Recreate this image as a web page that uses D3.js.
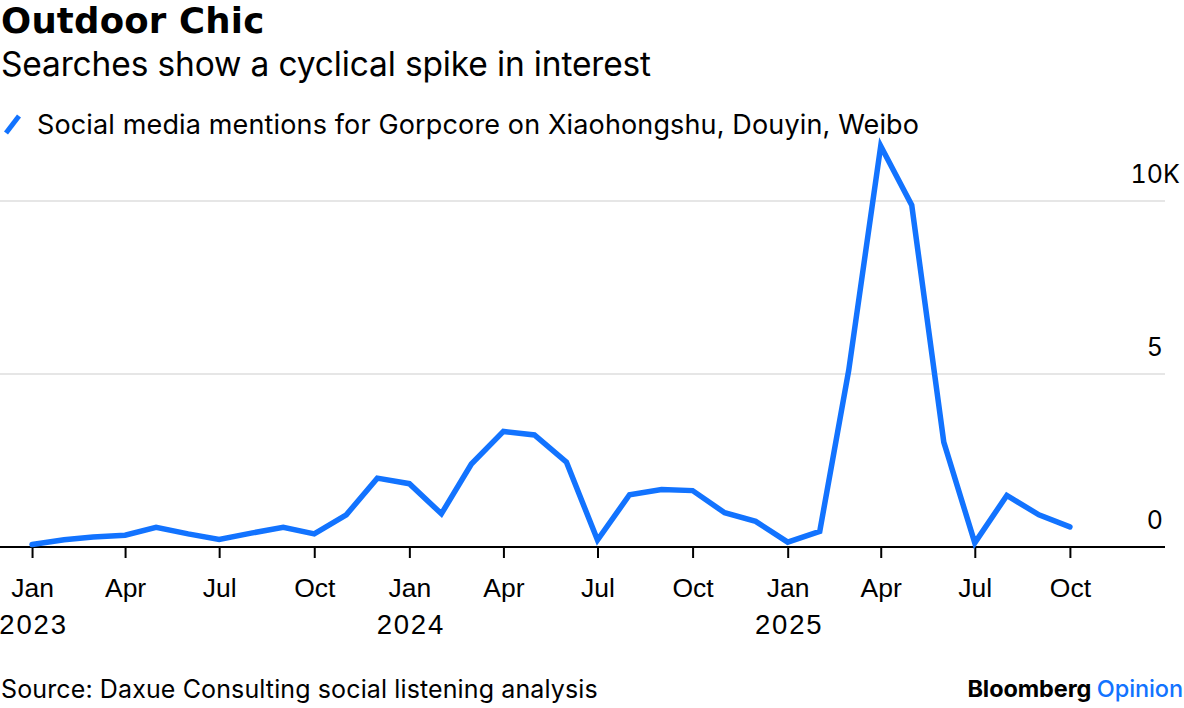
<!DOCTYPE html>
<html><head><meta charset="utf-8">
<script src="https://cdn.jsdelivr.net/npm/d3@7"></script>
<style>
body{margin:0;background:#fff;}
svg{display:block;font-family:Inter,"Liberation Sans",Arial,sans-serif;}
.num{font-feature-settings:"tnum";}
</style></head>
<body><svg id="c" width="1184" height="708"></svg>
<script>
const months = ["2023-01","2023-02","2023-03","2023-04","2023-05","2023-06","2023-07","2023-08","2023-09","2023-10","2023-11","2023-12",
"2024-01","2024-02","2024-03","2024-04","2024-05","2024-06","2024-07","2024-08","2024-09","2024-10","2024-11","2024-12",
"2025-01","2025-02","2025-03","2025-04","2025-05","2025-06","2025-07","2025-08","2025-09","2025-10"];
const mentionsK = [0.07,0.21,0.29,0.34,0.57,0.38,0.22,0.40,0.57,0.38,0.93,1.99,
1.83,0.96,2.40,3.34,3.24,2.45,0.2,1.51,1.66,1.63,0.99,0.74,
0.14,0.45,5.1,11.59,9.88,3.03,0.12,1.49,0.93,0.58];
const yTicks = [0,5,10];
const yTickLabels = ["0","5","10"];
const yUnit = "K";
const xTickMonths = ["2023-01","2023-04","2023-07","2023-10","2024-01","2024-04","2024-07","2024-10","2025-01","2025-04","2025-07","2025-10"];
const title = "Outdoor Chic";
const subtitle = "Searches show a cyclical spike in interest";
const legendLabel = "Social media mentions for Gorpcore on Xiaohongshu, Douyin, Weibo";
const source = "Source: Daxue Consulting social listening analysis";

const parse = d3.timeParse("%Y-%m");
const data = months.map((m,i)=>({date:parse(m), v:mentionsK[i]}));
const blue = "#1273ff";
const svg = d3.select("#c");

const x = d3.scaleTime().domain([new Date(2022,11,1), new Date(2026,0,1)]).range([0,1165]);
const y = d3.scaleLinear().domain([0,10]).range([547,201]);

svg.append("text").attr("x",1).attr("y",33).attr("font-family","'DejaVu Sans',Inter,sans-serif").attr("font-size",35.5).attr("font-weight","bold").attr("letter-spacing",0.2).attr("fill","#000").text(title);
svg.append("text").attr("x",1).attr("y",76).attr("font-size",33.5).attr("letter-spacing",-0.15).attr("fill","#000").text(subtitle);
svg.append("line").attr("x1",6).attr("y1",133).attr("x2",19).attr("y2",116).attr("stroke",blue).attr("stroke-width",5);
svg.append("text").attr("x",37).attr("y",134).attr("font-size",27).attr("letter-spacing",0.14).attr("fill","#000").text(legendLabel);

// gridlines
svg.append("g").selectAll("line").data(yTicks.filter(d=>d>0)).join("line")
  .attr("x1",0).attr("x2",1165).attr("y1",d=>y(d)).attr("y2",d=>y(d))
  .attr("stroke","#e6e6e6").attr("stroke-width",2);
const yl = svg.append("g").selectAll("g").data(yTicks).join("g");
yl.append("text").attr("class","num")
  .attr("x",1163).attr("y",d=>y(d)-18).attr("text-anchor","end").attr("font-size",25).attr("fill","#000")
  .text((d,i)=>yTickLabels[i]);
yl.filter(d=>d===d3.max(yTicks)).append("text")
  .attr("x",1163).attr("y",d=>y(d)-18).attr("font-size",25).attr("fill","#000").text(yUnit);

// x axis
const xAxis = d3.axisBottom(x).tickValues(xTickMonths.map(parse)).tickSize(11).tickFormat("");
const gx = svg.append("g").attr("transform","translate(0,547)").call(xAxis);
gx.select(".domain").attr("d","M0,0H1165").attr("stroke","#000").attr("stroke-width",2);
gx.selectAll(".tick line").attr("stroke","#000").attr("stroke-width",2);
const fmtM = d3.timeFormat("%b"), fmtY = d3.timeFormat("%Y");
gx.selectAll(".tick").each(function(d){
  const g = d3.select(this);
  g.append("text").attr("y",50).attr("text-anchor","middle").attr("font-size",26.5).attr("fill","#000").text(fmtM(d));
  if(d.getMonth()===0) g.append("text").attr("class","num").attr("x",1).attr("y",87).attr("text-anchor","middle").attr("font-size",27.5).attr("letter-spacing",1.8).attr("fill","#000").text(fmtY(d));
});

// line
svg.append("path").datum(data)
  .attr("d", d3.line().x(d=>x(d.date)).y(d=>y(d.v)))
  .attr("fill","none").attr("stroke",blue).attr("stroke-width",5.5).attr("stroke-linejoin","miter").attr("stroke-linecap","round");

svg.append("text").attr("x",1).attr("y",698).attr("font-size",25).attr("letter-spacing",0.12).attr("fill","#000").text(source);
const brand = svg.append("text").attr("x",1183).attr("y",697).attr("text-anchor","end").attr("font-size",23.5).attr("font-weight","bold").attr("letter-spacing",-0.1);
brand.append("tspan").attr("fill","#000").text("Bloomberg ");
brand.append("tspan").attr("fill",blue).attr("font-weight",500).text("Opinion");
</script></body></html>
